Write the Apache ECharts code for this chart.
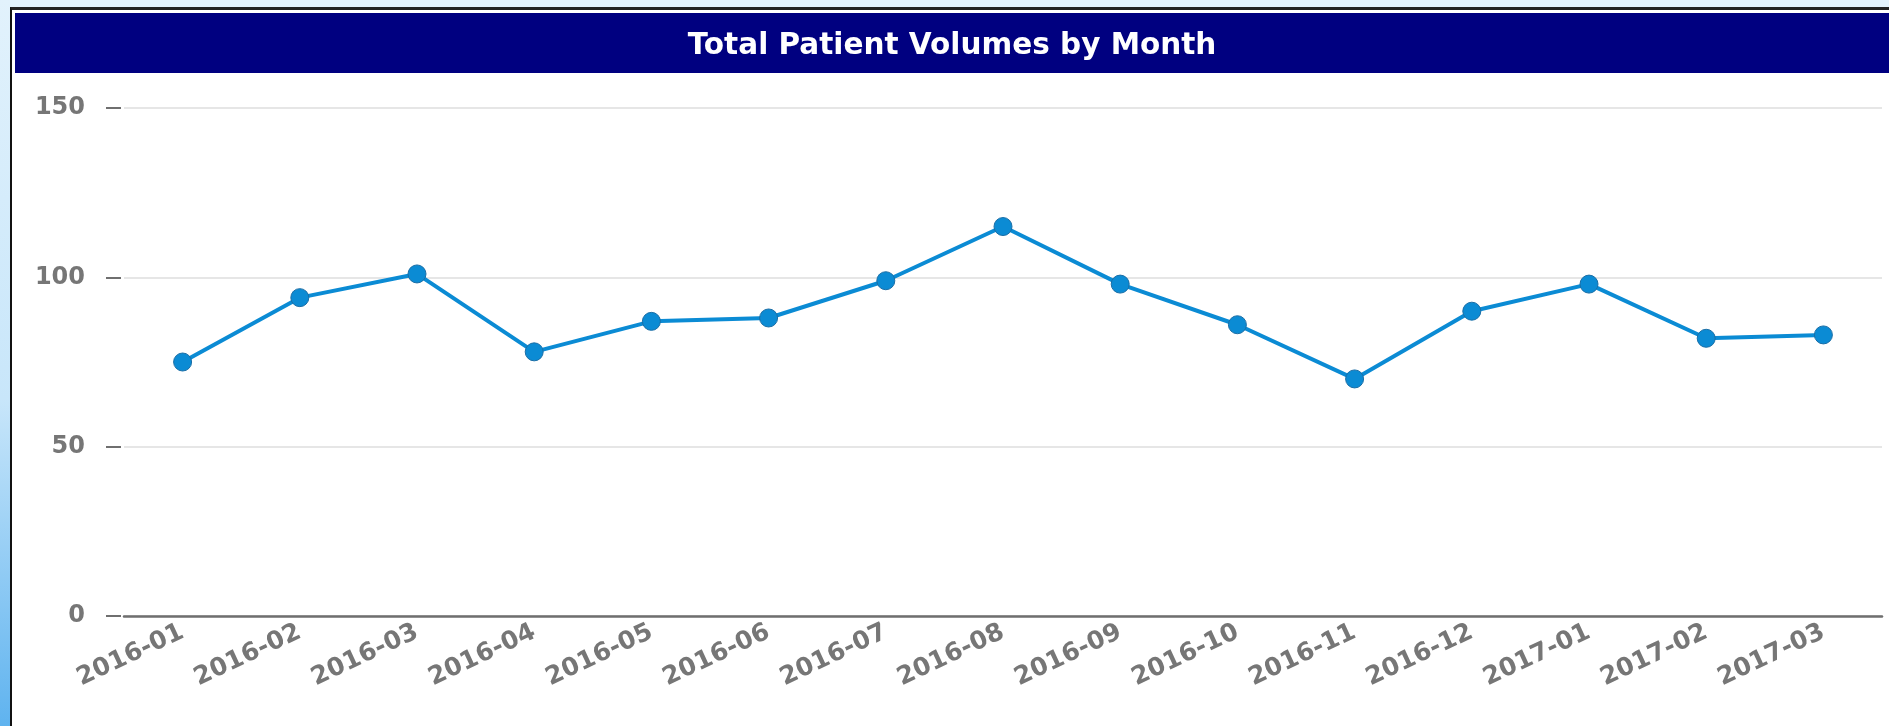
<!DOCTYPE html>
<html>
<head>
    <meta charset="utf-8" />
    <title>Total Patient Volumes by Month</title>
    <script src="https://cdn.jsdelivr.net/npm/echarts@6/dist/echarts.min.js"></script>
    <style>
        html, body { margin: 0; padding: 0; width: 100%; height: 100%; overflow: hidden; background: #e2f2fc; }
        #strip { position: absolute; left: 0; top: 0; width: 10px; height: 100%;
                 background: linear-gradient(to bottom, #e2f2fc 0%, #c8e6fa 55%, #5fb3ef 100%); }
        #frame { position: absolute; left: 10px; top: 7px; right: 0; bottom: 0;
                 border-left: 2px solid #111; border-top: 3px solid #222; background: #fff; }
        #container { position: absolute; left: 3px; top: 3px; right: 0; bottom: 0; }
    </style>
</head>
<body>
    <div id="strip"></div>
    <div id="frame">
        <div id="container"></div>
    </div>

    <script>
        // chart data
        var months = ['2016-01', '2016-02', '2016-03', '2016-04', '2016-05', '2016-06', '2016-07', '2016-08',
                      '2016-09', '2016-10', '2016-11', '2016-12', '2017-01', '2017-02', '2017-03'];
        var volumes = [75, 94, 101, 78, 87, 88, 99, 115, 98, 86, 70, 90, 98, 82, 83];
        var yTicks = [0, 50, 100, 150];

        var labelFont = 'DejaVu Sans';
        var grey = '#767676';

        var dom = document.getElementById('container');
        var myChart = echarts.init(dom);
        var option = {
            animation: false,
            backgroundColor: '#fff',
            graphic: [
                {
                    type: 'rect',
                    left: 0,
                    top: 0,
                    shape: { width: 3000, height: 60 },
                    style: { fill: '#000080' },
                    z: -1
                }
            ],
            title: {
                text: 'Total Patient Volumes by Month',
                left: 'center',
                top: 18,
                padding: 0,
                textStyle: {
                    color: '#fff',
                    fontFamily: labelFont,
                    fontWeight: 'bold',
                    fontSize: 29.5
                }
            },
            grid: {
                left: 109,
                right: 7,
                top: 95,
                bottom: 110
            },
            xAxis: {
                type: 'category',
                data: months,
                boundaryGap: true,
                axisLine: { lineStyle: { color: '#6f6f6f', width: 2.5 } },
                axisTick: { alignWithLabel: true, length: 10, lineStyle: { color: '#6f6f6f', width: 2 } },
                axisLabel: {
                    interval: 0,
                    rotate: 25,
                    margin: 15,
                    color: grey,
                    fontFamily: labelFont,
                    fontWeight: 'bold',
                    fontSize: 25
                }
            },
            yAxis: {
                type: 'value',
                min: yTicks[0],
                max: yTicks[yTicks.length - 1],
                interval: yTicks[1] - yTicks[0],
                offset: 3,
                axisLine: { show: false },
                axisTick: { show: true, length: 15, lineStyle: { color: '#6f6f6f', width: 2 } },
                splitLine: { lineStyle: { color: '#e6e6e6', width: 2 } },
                axisLabel: {
                    margin: 36,
                    color: grey,
                    fontFamily: labelFont,
                    fontWeight: 'bold',
                    fontSize: 24
                }
            },
            series: [
                {
                    type: 'line',
                    data: volumes,
                    symbol: 'circle',
                    symbolSize: 18,
                    lineStyle: { color: '#0b8bd4', width: 4 },
                    itemStyle: { color: '#0b8bd4', borderColor: '#1a6ea6', borderWidth: 1 }
                }
            ]
        };
        myChart.setOption(option);
    </script>
</body>
</html>
